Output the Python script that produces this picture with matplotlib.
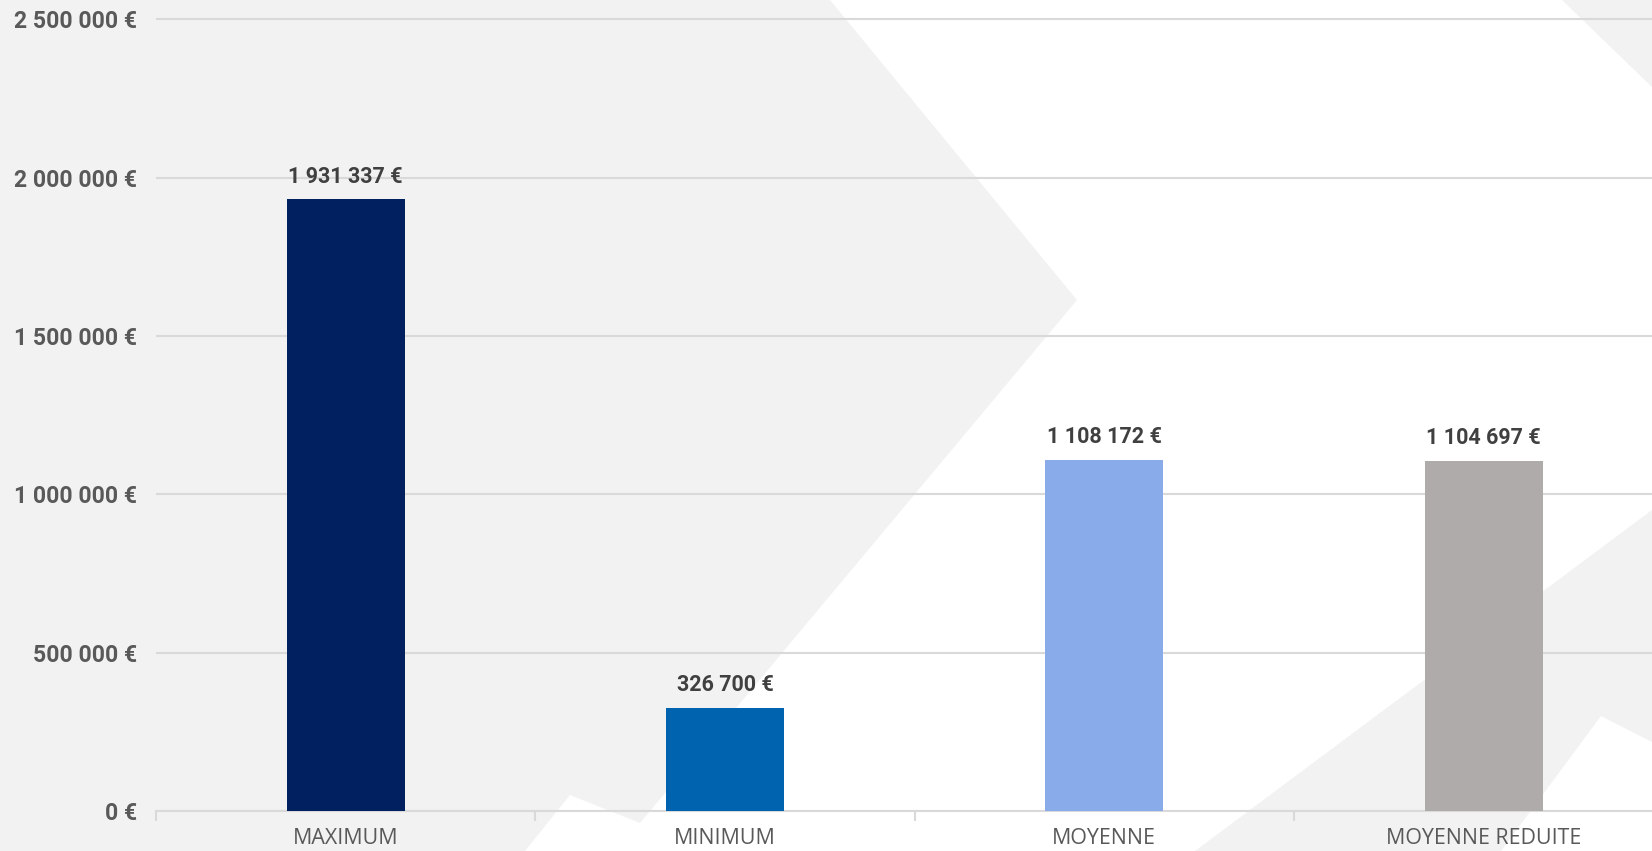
import matplotlib.pyplot as plt
from matplotlib.patches import Polygon
from matplotlib.ticker import FuncFormatter

# data
categories = ["MAXIMUM", "MINIMUM", "MOYENNE", "MOYENNE REDUITE"]
values = [1931337, 326700, 1108172, 1104697]
bar_colors = ["#002060", "#0063B0", "#8AABEA", "#AFABAA"]
y_ticks = [0, 500000, 1000000, 1500000, 2000000, 2500000]


def euro(v, pos=None):
    return f"{int(v):,}".replace(",", " ") + " €"


W, H = 1652, 851
fig = plt.figure(figsize=(W / 100, H / 100), dpi=100)
fig.patch.set_facecolor("white")

# decorative background shapes (pixel coords, origin top-left)
bg = fig.add_axes([0, 0, 1, 1])
bg.set_xlim(0, W)
bg.set_ylim(H, 0)
bg.axis("off")
shapes = [
    [(0, 0), (830, 0), (1077, 300), (640, 823), (570, 795), (525, 851), (0, 851)],
    [(1562, 0), (1652, 0), (1652, 87)],
    [(1195, 851), (1652, 510), (1652, 742), (1601, 716), (1501, 851)],
]
for pts in shapes:
    bg.add_patch(Polygon(pts, closed=True, facecolor="#F2F2F2", edgecolor="none"))

# main chart
ax = fig.add_axes([0.0944, 0.0467, 0.9185, 0.938])
ax.patch.set_alpha(0)
x = range(len(categories))
ax.bar(x, values, width=0.311, color=bar_colors, zorder=3)

ax.set_xlim(-0.5, 3.5)
ax.set_ylim(0, 2520000)
ax.set_yticks(y_ticks)
ax.yaxis.set_major_formatter(FuncFormatter(euro))
ax.set_axisbelow(True)
ax.yaxis.grid(True, color="#D9D9D9", lw=1.5)

for s in ["top", "right", "left"]:
    ax.spines[s].set_visible(False)
ax.spines["bottom"].set_color("#D9D9D9")
ax.spines["bottom"].set_linewidth(1.5)

ax.set_xticks([-0.5, 0.5, 1.5, 2.5, 3.5])
ax.set_xticklabels([])
ax.set_xticks(list(x), minor=True)
ax.set_xticklabels(categories, minor=True, fontfamily="Open Sans",
                   fontsize=15.4, color="#595959")
ax.tick_params(axis="x", which="major", length=7, width=1.5, color="#D9D9D9")
ax.tick_params(axis="x", which="minor", length=0, pad=12.3)
ax.tick_params(axis="y", length=0, pad=13.7)
for lab in ax.get_yticklabels():
    lab.set_fontfamily("Roboto")
    lab.set_fontweight("bold")
    lab.set_fontsize(16.6)
    lab.set_color("#595959")

for xi, v in zip(x, values):
    ax.annotate(euro(v), (xi, v), xytext=(0, 12.2), textcoords="offset points",
                ha="center", va="baseline", fontfamily="Roboto",
                fontweight="bold", fontsize=15.5, color="#404040")

fig.savefig("out.png", dpi=100)
